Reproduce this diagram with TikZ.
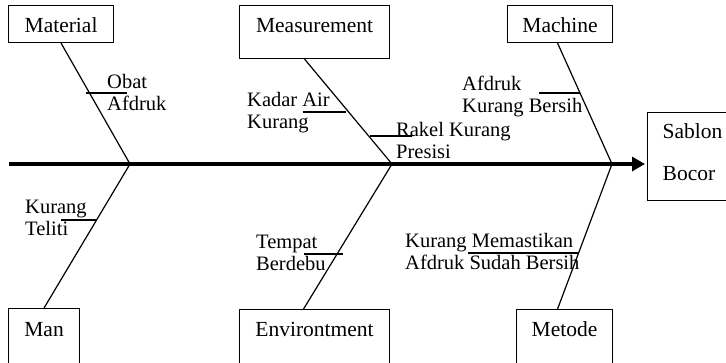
\documentclass[tikz,border=0pt]{standalone}
\usepackage{fontspec}
\setmainfont{Liberation Serif}
\usetikzlibrary{arrows.meta}
\begin{document}
\begin{tikzpicture}[x=1pt,y=-1pt,
 box/.style={draw, line width=1.1pt, rectangle, inner sep=0pt, anchor=north west, font=\fontsize{21.5}{24}\selectfont},
 cause/.style={anchor=base west, inner sep=0pt, font=\fontsize{20.5}{22}\selectfont},
 bone/.style={line width=1.2pt},
 twig/.style={line width=1.1pt},
 spine/.style={line width=4pt, -{Triangle[length=13pt,width=14pt]}, shorten >=2pt}]
\useasboundingbox (0,0) rectangle (726,362);
\clip (0,0) rectangle (726,362);

% boxes
\node[box, minimum width=105pt, text height=27pt, text depth=10pt] (mat) at (8,5) {Material};
\node[box, minimum width=150pt, text height=27pt, text depth=26pt] (meas) at (239,5) {Measurement};
\node[box, minimum width=105pt, text height=27pt, text depth=10pt] (mach) at (507,5) {Machine};
\node[box, minimum width=90pt, text height=26pt, text depth=62pt] (sab) at (647,112) {\begin{tabular}[t]{@{}l@{}}Sablon\\[18pt]Bocor\end{tabular}};
\node[box, minimum width=71pt, text height=28pt, text depth=32pt] (man) at (8,308) {Man};
\node[box, minimum width=150pt, text height=27pt, text depth=33pt] (env) at (239,309) {Environtment};
\node[box, minimum width=96pt, text height=27pt, text depth=33pt] (met) at (516,309) {Metode};

% spine
\coordinate (s0) at (9,164);
\draw[spine] (s0) -- (s0 -| sab.west);

% junctions
\coordinate (j1) at (130,164);
\coordinate (j2) at (392,164);
\coordinate (j3) at (612,164);

% bones
\draw[bone] (mat.south) -- (j1) -- (man.north);
\draw[bone] ([xshift=-10pt]meas.south) -- (j2) -- ([xshift=-11pt]env.north);
\draw[bone] ([xshift=-2.5pt]mach.south) -- (j3) -- ([xshift=-7pt]met.north);

% twigs
\coordinate (a1) at (86,93);   \coordinate (b1) at (127,93);
\coordinate (a2) at (303,112); \coordinate (b2) at (346,112);
\coordinate (a3) at (370,136); \coordinate (b3) at (412,136);
\coordinate (a4) at (539,93);  \coordinate (b4) at (580,93);
\coordinate (a5) at (61,220);  \coordinate (b5) at (97,220);
\coordinate (a6) at (304,254); \coordinate (b6) at (343,254);
\coordinate (a7) at (468,253); \coordinate (b7) at (579,253);
\foreach \i in {1,...,7} {\draw[twig] (a\i) -- (b\i);}

% causes
\node[cause] (c1) at (107,88) {\begin{tabular}[t]{@{}l@{}}Obat\\Afdruk\end{tabular}};
\node[cause] (c2) at (247,106) {\begin{tabular}[t]{@{}l@{}}Kadar Air\\Kurang\end{tabular}};
\node[cause] (c3) at (396,136) {\begin{tabular}[t]{@{}l@{}}Rakel Kurang\\Presisi\end{tabular}};
\node[cause] (c4) at (462,90) {\begin{tabular}[t]{@{}l@{}}Afdruk\\Kurang Bersih\end{tabular}};
\node[cause] (c5) at (25,213) {\begin{tabular}[t]{@{}l@{}}Kurang\\Teliti\end{tabular}};
\node[cause] (c6) at (256,248) {\begin{tabular}[t]{@{}l@{}}Tempat\\Berdebu\end{tabular}};
\node[cause] (c7) at (405,247) {\begin{tabular}[t]{@{}l@{}}Kurang Memastikan\\Afdruk Sudah Bersih\end{tabular}};
\end{tikzpicture}
\end{document}
